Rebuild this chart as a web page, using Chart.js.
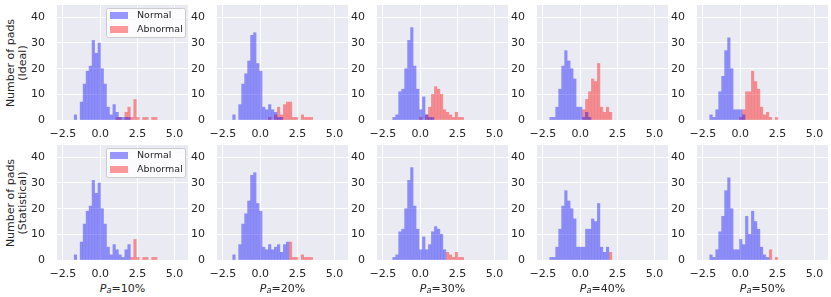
<!DOCTYPE html>
<html>
<head>
<meta charset="utf-8">
<script src="https://cdn.jsdelivr.net/npm/chart.js@4.4.1/dist/chart.umd.min.js"></script>
<style>
  html, body { margin: 0; padding: 0; background: #fff; }
  #wrap { position: relative; width: 831px; height: 297px; overflow: hidden;
          font-family: "DejaVu Sans", sans-serif; color: #262626; }
  .cell { position: absolute; width: 161px; height: 140px; }
  .ytitle { position: absolute; transform: translate(-50%, -50%) rotate(-90deg);
            white-space: nowrap; text-align: center; font-size: 11px; line-height: 11.5px; }
  .xlabel { position: absolute; transform: translate(-50%, -50%); font-size: 11px; white-space: nowrap; }
  .xlabel sub { font-size: 75%; vertical-align: -0.2em; line-height: 0; font-style: italic; }
</style>
</head>
<body>
<div id="wrap"></div>
<script>
// panels: columns = anomaly rate, rows = Ideal / Statistical
const rates = ["10%", "20%", "30%", "40%", "50%"];
const rowNames = ["(Ideal)", "(Statistical)"];
const seriesNames = ["Normal", "Abnormal"];
const xTicks = [-2.5, 0, 2.5, 5];
const yTicks = [0, 10, 20, 30, 40];

// histogram bins: first bin centre per column, fixed bin width
const binStart = [-1.66, -1.76, -1.76, -1.96, -1.96];
const binWidth = 0.2;

// Ideal row counts per bin
const idealNormal = [
  [2, 0, 7, 14, 19, 21, 31, 26, 30, 20, 14, 5, 2, 6, 3, 1, 1, 1, 1],
  [2, 0, 6, 14, 18, 23, 33, 34, 22, 19, 5, 4, 6, 4, 3, 1, 1],
  [1, 2, 11, 12, 20, 31, 36, 21, 12, 4, 9, 2, 1, 1],
  [1, 1, 5, 12, 21, 27, 23, 20, 16, 5, 5, 1, 3, 1],
  [2, 1, 4, 11, 17, 27, 32, 20, 4, 4, 4, 2]
];
const idealAbnormal = [
  [0, 0, 0, 0, 0, 0, 0, 0, 0, 0, 0, 0, 0, 0, 1, 1, 0, 3, 5, 1, 8, 1, 0, 1, 1, 0, 1, 1],
  [0, 0, 0, 0, 0, 0, 0, 0, 0, 0, 0, 0, 1, 0, 2, 5, 2, 6, 7, 7, 1, 1, 0, 2, 1, 1, 1],
  [0, 0, 0, 0, 0, 0, 0, 0, 0, 1, 0, 2, 5, 10, 13, 12, 10, 4, 3, 2, 1, 3, 1, 1],
  [0, 0, 0, 0, 0, 0, 0, 0, 0, 0, 0, 4, 8, 11, 16, 15, 22, 5, 3, 5, 3],
  [0, 0, 0, 0, 0, 0, 0, 0, 0, 0, 1, 4, 11, 11, 19, 15, 12, 5, 2, 3, 1, 0, 1]
];

// Statistical row counts per bin
const statNormal = [
  [2, 0, 7, 14, 19, 21, 31, 26, 30, 20, 14, 5, 2, 6, 4, 2, 1, 4, 6],
  [2, 0, 6, 14, 18, 23, 33, 34, 22, 19, 5, 4, 6, 4, 5, 6, 3, 6, 7],
  [1, 2, 11, 12, 20, 31, 36, 21, 12, 4, 9, 4, 6, 11, 13, 12, 10, 4],
  [1, 1, 5, 12, 21, 27, 23, 20, 16, 5, 5, 5, 12, 12, 16, 15, 22, 5, 3, 5],
  [2, 1, 4, 11, 17, 27, 32, 20, 4, 4, 8, 6, 17, 10, 19, 15, 12, 5, 2, 1]
];
const statAbnormal = [
  [0, 0, 0, 0, 0, 0, 0, 0, 0, 0, 0, 0, 0, 0, 0, 0, 0, 0, 0, 1, 8, 1, 0, 1, 1, 0, 1, 1],
  [0, 0, 0, 0, 0, 0, 0, 0, 0, 0, 0, 0, 0, 0, 0, 0, 0, 0, 0, 7, 1, 1, 0, 2, 1, 1, 1],
  [0, 0, 0, 0, 0, 0, 0, 0, 0, 0, 0, 0, 0, 0, 0, 0, 0, 0, 3, 2, 1, 3, 1, 1],
  [0, 0, 0, 0, 0, 0, 0, 0, 0, 0, 0, 0, 0, 0, 0, 0, 0, 0, 0, 0, 3],
  [0, 0, 0, 0, 0, 0, 0, 0, 0, 0, 0, 0, 0, 0, 0, 0, 0, 0, 0, 0, 4, 0, 1]
];

const blue = "rgba(0, 0, 255, 0.4)";
const red = "rgba(255, 0, 0, 0.4)";
const bg = "#eaeaf2";
const textCol = "#262626";
const font = "'DejaVu Sans', sans-serif";

function toPoints(counts, start) {
  const pts = [];
  counts.forEach((c, i) => {
    if (c > 0) pts.push({ x: start + i * binWidth, y: c });
  });
  return pts;
}

const bgPlugin = {
  id: "plotBg",
  beforeDraw(chart) {
    const a = chart.chartArea;
    chart.ctx.save();
    chart.ctx.fillStyle = bg;
    chart.ctx.fillRect(a.left, a.top, a.right - a.left, a.bottom - a.top);
    chart.ctx.restore();
  }
};

// legend box drawn inside the plot, upper right
const boxLegend = {
  id: "boxLegend",
  afterDraw(chart, args, opts) {
    if (!opts.show) return;
    const ctx = chart.ctx, a = chart.chartArea;
    const w = 79, h = 29;
    const x = a.right - 3 - w, y = a.top + 3;
    ctx.save();
    ctx.beginPath();
    ctx.roundRect(x + 0.5, y + 0.5, w, h, 2);
    ctx.fillStyle = "rgba(255,255,255,0.8)";
    ctx.fill();
    ctx.strokeStyle = "#cccccc";
    ctx.lineWidth = 1;
    ctx.stroke();
    ctx.font = "9.5px " + font;
    ctx.textBaseline = "middle";
    chart.data.datasets.forEach((ds, i) => {
      const cy = y + 7.5 + i * 14;
      ctx.fillStyle = ds.backgroundColor;
      ctx.fillRect(x + 4, cy - 3.5, 18, 7);
      ctx.fillStyle = textCol;
      ctx.fillText(ds.label, x + 31, cy + 0.5);
    });
    ctx.restore();
  }
};

const wrap = document.getElementById("wrap");
const rows = [[idealNormal, idealAbnormal], [statNormal, statAbnormal]];

rows.forEach((pair, r) => {
  const t = document.createElement("div");
  t.className = "ytitle";
  t.style.left = "15.5px";
  t.style.top = (62.5 + 140 * r) + "px";
  t.innerHTML = "Number of pads<br>" + rowNames[r];
  wrap.appendChild(t);

  rates.forEach((rate, c) => {
    const plotLeft = 57 + 160 * c;
    const plotTop = 5 + 140 * r;
    const cell = document.createElement("div");
    cell.className = "cell";
    cell.style.left = (plotLeft - 28) + "px";
    cell.style.top = (plotTop - 5) + "px";
    const cv = document.createElement("canvas");
    cv.width = 161; cv.height = 140;
    cell.appendChild(cv);
    wrap.appendChild(cell);

    new Chart(cv, {
      type: "bar",
      data: {
        datasets: [
          { label: seriesNames[0], data: toPoints(pair[0][c], binStart[c]),
            backgroundColor: blue, borderWidth: 0, barThickness: 2.5, grouped: false },
          { label: seriesNames[1], data: toPoints(pair[1][c], binStart[c]),
            backgroundColor: red, borderWidth: 0, barThickness: 2.5, grouped: false }
        ]
      },
      options: {
        responsive: false,
        animation: false,
        devicePixelRatio: 1,
        layout: { padding: { top: 5, right: 2, left: 0, bottom: 0 } },
        plugins: {
          legend: { display: false },
          tooltip: { enabled: false },
          boxLegend: { show: c === 0 }
        },
        scales: {
          x: {
            type: "linear", min: -2.9, max: 5.9, offset: false,
            grid: { color: "#ffffff", lineWidth: 1, drawTicks: false, offset: false },
            border: { display: false },
            ticks: {
              padding: 8, color: textCol, font: { family: font, size: 11 },
              callback: v => v.toFixed(1).replace("-", "\u2212")
            },
            afterBuildTicks: s => { s.ticks = xTicks.map(v => ({ value: v })); },
            afterFit: s => { s.height = 20; s.paddingLeft = 0; s.paddingRight = 0; }
          },
          y: {
            min: 0, max: 44.8,
            grid: { color: "#ffffff", lineWidth: 1, drawTicks: false },
            border: { display: false },
            ticks: { padding: 12, color: textCol, font: { family: font, size: 11 } },
            afterBuildTicks: s => { s.ticks = yTicks.map(v => ({ value: v })); },
            afterFit: s => { s.width = 28; s.paddingTop = 0; s.paddingBottom = 0; }
          }
        }
      },
      plugins: [bgPlugin, boxLegend]
    });

    if (r === 1) {
      const xl = document.createElement("div");
      xl.className = "xlabel";
      xl.style.left = (plotLeft + 65.5) + "px";
      xl.style.top = "288px";
      xl.innerHTML = "<i>P</i><sub>a</sub>=" + rate;
      wrap.appendChild(xl);
    }
  });
});
</script>
</body>
</html>
